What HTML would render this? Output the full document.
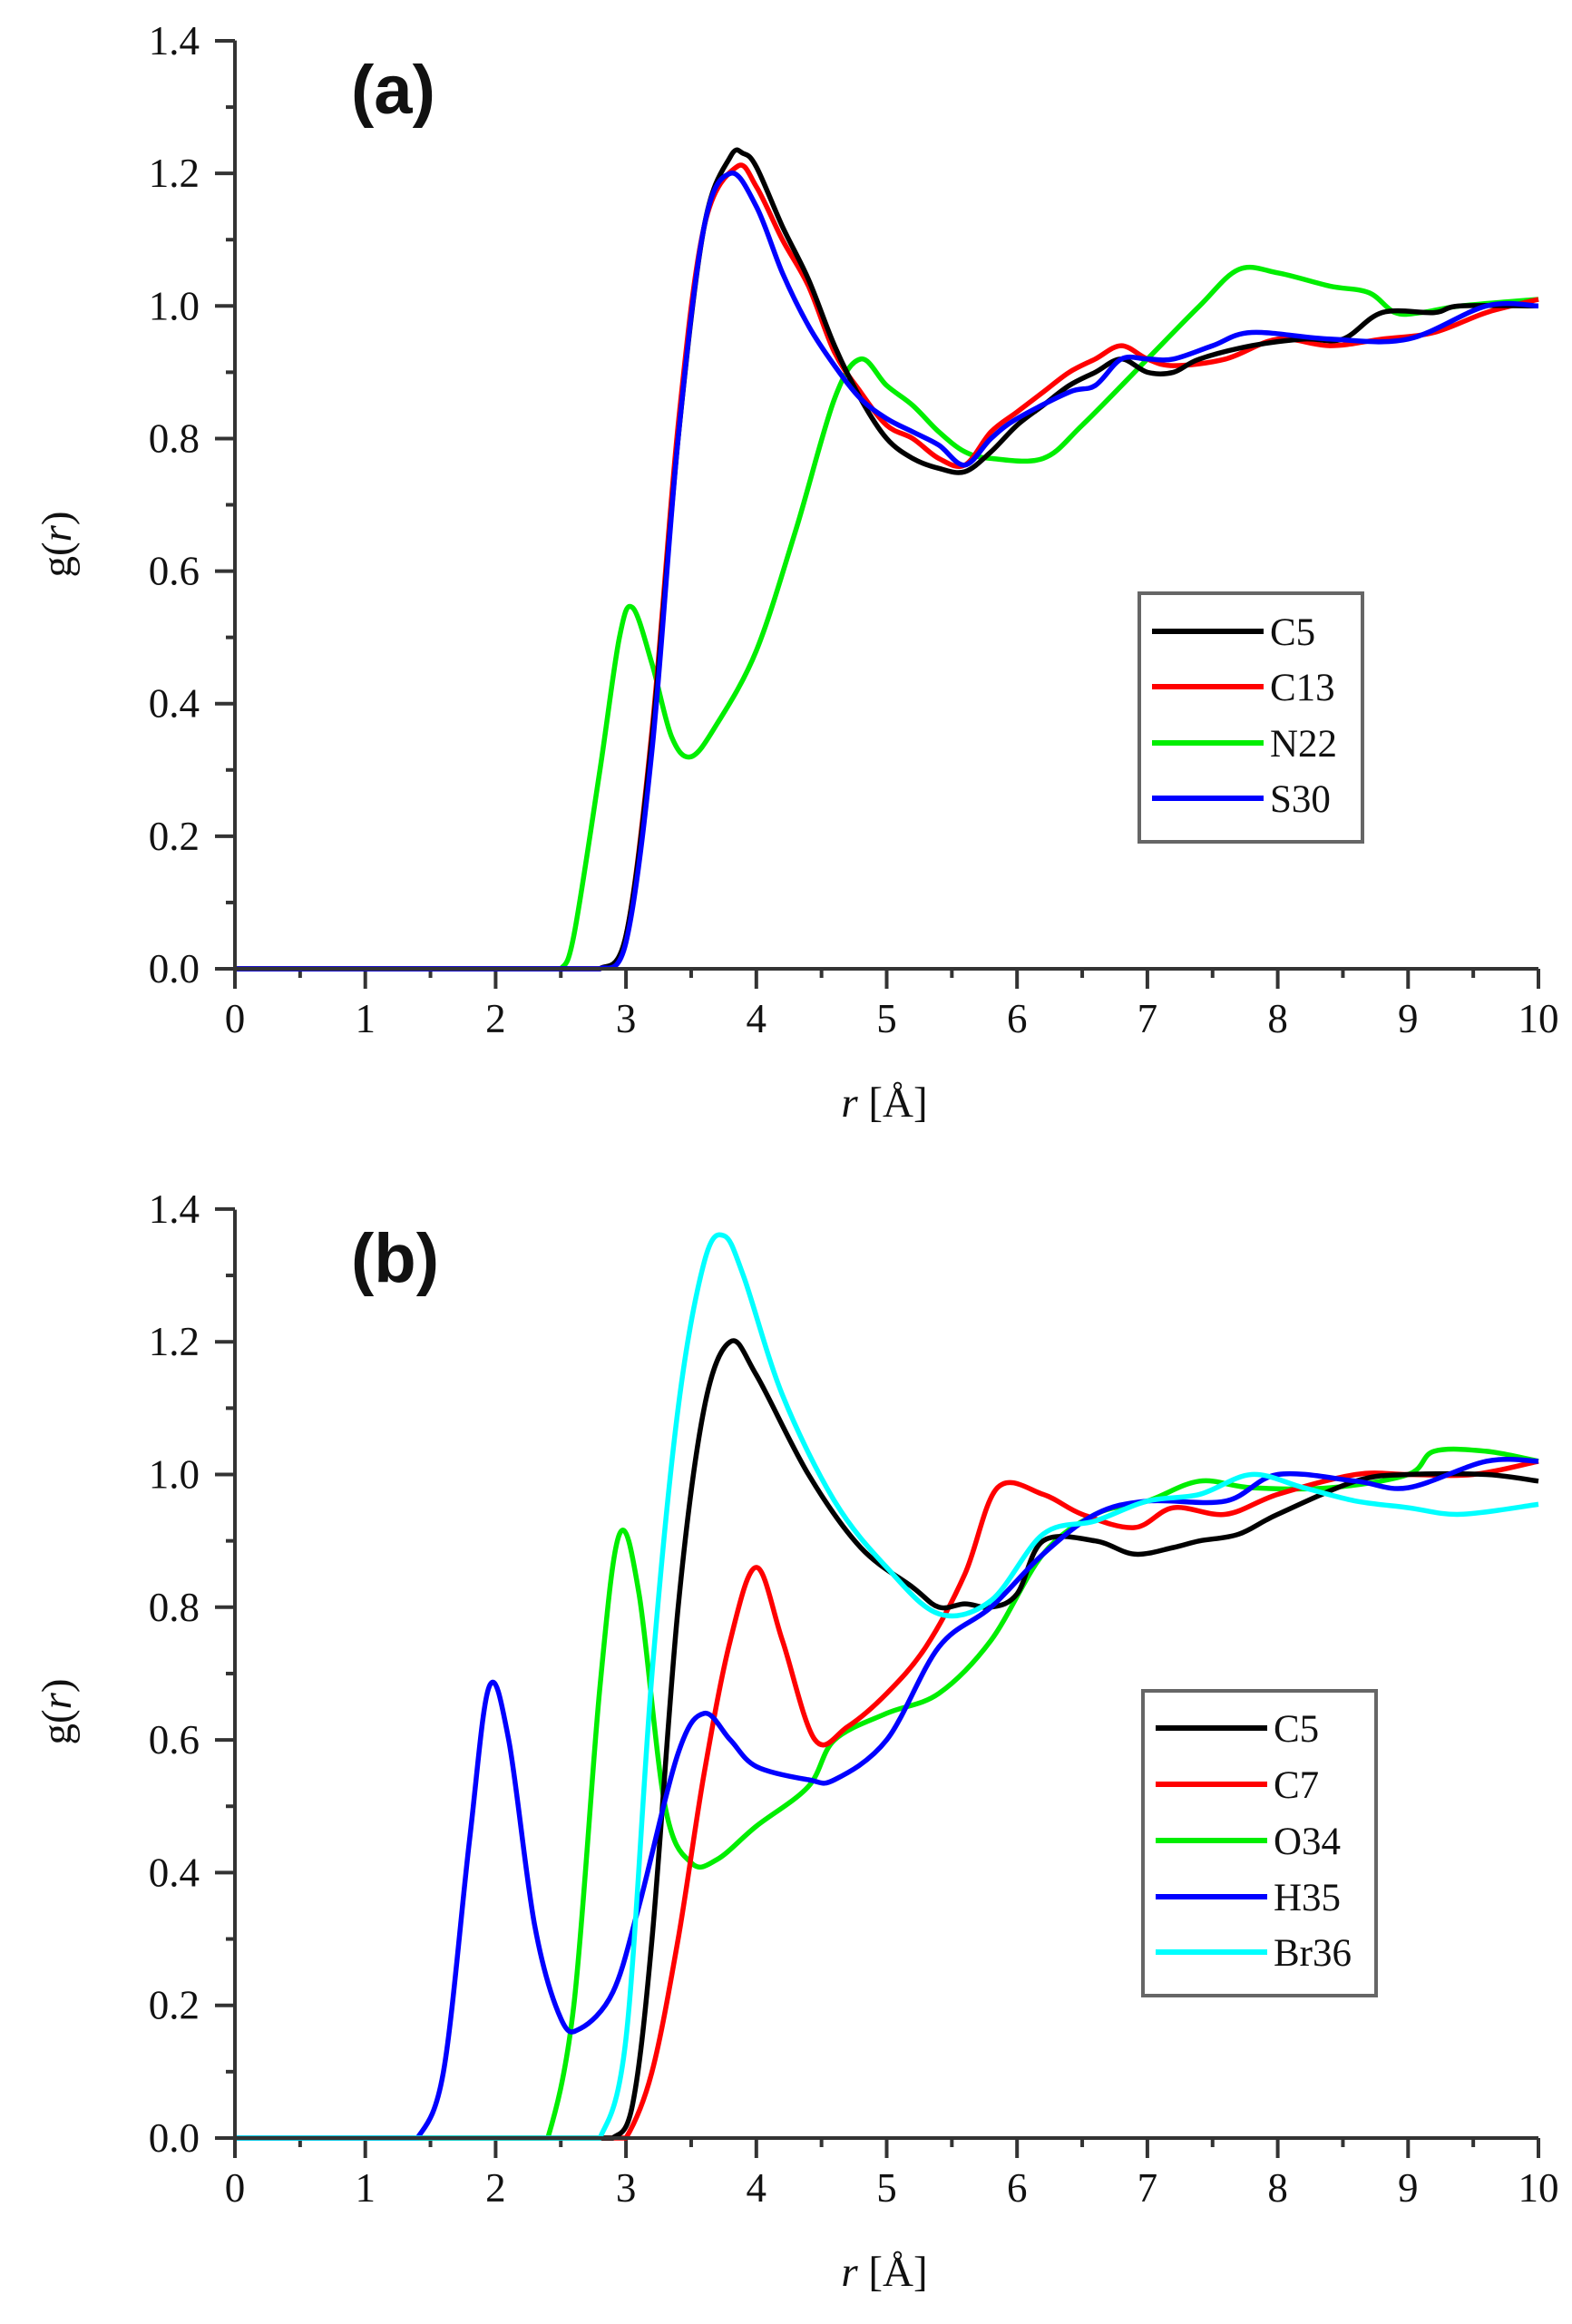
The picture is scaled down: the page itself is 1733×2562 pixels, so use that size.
<!DOCTYPE html>
<html><head><meta charset="utf-8"><style>
html,body{margin:0;padding:0;background:#fff;}
svg{display:block}
text{font-family:"Liberation Serif",serif;fill:#111}
</style></head><body>
<svg id="s" width="1733" height="2562" viewBox="0 0 1733 2562" xmlns="http://www.w3.org/2000/svg"></svg>
<script>
const S=document.getElementById('s');
let h='';
const X=r=>259+143.7*r;
function axes(y0,k,label,lab,yl){
  const Y=g=>y0-k*g;
  for(let i=0;i<=20;i++){const x=X(i/2);const L=i%2?10:22;h+=`<line x1="${x}" y1="${y0}" x2="${x}" y2="${y0+L}" stroke="#333" stroke-width="4"/>`;}
  for(let i=0;i<=14;i++){const y=Y(i/10);const L=i%2?10:22;h+=`<line x1="${259-L}" y1="${y}" x2="259" y2="${y}" stroke="#333" stroke-width="4"/>`;}
  for(let i=0;i<=10;i++){h+=`<text x="${X(i)}" y="${y0+70}" font-size="45" text-anchor="middle">${i}</text>`;}
  for(let i=0;i<=7;i++){h+=`<text x="220" y="${Y(i*0.2)+15}" font-size="45" text-anchor="end">${(i*0.2).toFixed(1)}</text>`;}
  h+=`<text x="975" y="${y0+163}" font-size="47" text-anchor="middle"><tspan font-style="italic">r</tspan> [Å]</text>`;
  h+=`<text transform="translate(78,${yl}) rotate(-90)" font-size="47" text-anchor="middle">g(<tspan font-style="italic">r</tspan>)</text>`;
  h+=`<text x="387" y="${lab}" font-size="76" font-weight="bold" style="font-family:'Liberation Sans',sans-serif" fill="#000">${label}</text>`;
  return Y;
}
function curve(pts,Y,col){
  // densify leading flat segment
  const a=pts[1][0];const Q=[];
  for(let x=0;x<a-1e-6;x+=0.1)Q.push([x,0]);
  Q.push([a,0]);for(let i=2;i<pts.length;i++)Q.push(pts[i]);
  const P=Q.map(p=>[X(p[0]),Y(p[1])]);
  let d=`M${P[0][0]},${P[0][1]}`;
  for(let i=0;i<P.length-1;i++){
    const p0=P[Math.max(0,i-1)],p1=P[i],p2=P[i+1],p3=P[Math.min(P.length-1,i+2)];
    let c1=[p1[0]+(p2[0]-p0[0])/6,p1[1]+(p2[1]-p0[1])/6];
    let c2=[p2[0]-(p3[0]-p1[0])/6,p2[1]-(p3[1]-p1[1])/6];
    if(Q[i][1]===0&&Q[i+1][1]===0){c1=[c1[0],p1[1]];c2=[c2[0],p2[1]];}
    if(Q[i][1]===0)c1[1]=Math.min(c1[1],p1[1]);
    d+=`C${c1[0].toFixed(1)},${c1[1].toFixed(1)} ${c2[0].toFixed(1)},${c2[1].toFixed(1)} ${p2[0].toFixed(1)},${p2[1].toFixed(1)}`;
  }
  h+=`<path d="${d}" fill="none" stroke="${col}" stroke-width="5.5" stroke-linejoin="round"/>`;
}
function legend(x,y,w,hh,rows){
  h+=`<rect x="${x}" y="${y}" width="${w}" height="${hh}" fill="#fff" stroke="#666" stroke-width="4"/>`;
  rows.forEach(r=>{h+=`<line x1="${x+14}" y1="${r[2]}" x2="${x+137}" y2="${r[2]}" stroke="${r[1]}" stroke-width="6"/>`;
  h+=`<text x="${x+144}" y="${r[2]+15}" font-size="43">${r[0]}</text>`;});
}
let Ya=axes(1068,730.7,'(a)',125,600);
const A={
C13:[[0,0],[2.8,0],[3.0,0.05],[3.2,0.36],[3.4,0.82],[3.6,1.12],[3.85,1.21],[4.0,1.18],[4.2,1.1],[4.4,1.03],[4.6,0.93],[4.8,0.87],[5.0,0.82],[5.2,0.8],[5.4,0.77],[5.6,0.76],[5.8,0.81],[6.0,0.84],[6.2,0.87],[6.4,0.9],[6.6,0.92],[6.8,0.94],[7.0,0.92],[7.2,0.91],[7.6,0.92],[8.0,0.95],[8.4,0.94],[8.8,0.95],[9.2,0.96],[9.6,0.99],[10,1.01]],
N22:[[0,0],[2.5,0],[2.6,0.05],[2.8,0.3],[2.95,0.5],[3.05,0.545],[3.2,0.46],[3.35,0.35],[3.5,0.32],[3.7,0.37],[4.0,0.48],[4.3,0.66],[4.6,0.86],[4.8,0.92],[5.0,0.88],[5.2,0.85],[5.4,0.81],[5.6,0.78],[5.8,0.77],[6.2,0.77],[6.5,0.82],[7.0,0.92],[7.4,1.0],[7.7,1.055],[8.0,1.05],[8.4,1.03],[8.7,1.02],[8.9,0.99],[9.1,0.99],[9.4,1.0],[10,1.01]],
S30:[[0,0],[2.8,0],[3.0,0.04],[3.2,0.33],[3.4,0.8],[3.6,1.12],[3.8,1.2],[4.0,1.15],[4.2,1.05],[4.4,0.97],[4.6,0.91],[4.8,0.86],[5.0,0.83],[5.2,0.81],[5.4,0.79],[5.6,0.76],[5.8,0.8],[6.0,0.83],[6.4,0.87],[6.6,0.88],[6.8,0.92],[7.0,0.92],[7.2,0.92],[7.5,0.94],[7.8,0.96],[8.4,0.95],[9.0,0.95],[9.6,1.0],[10,1.0]],
C5:[[0,0],[2.8,0],[3.0,0.05],[3.2,0.35],[3.4,0.8],[3.6,1.12],[3.8,1.225],[3.9,1.23],[4.0,1.21],[4.2,1.12],[4.4,1.04],[4.6,0.94],[4.8,0.86],[5.0,0.8],[5.2,0.77],[5.4,0.755],[5.6,0.75],[5.8,0.78],[6.0,0.82],[6.2,0.85],[6.4,0.88],[6.6,0.9],[6.8,0.92],[7.0,0.9],[7.2,0.9],[7.4,0.92],[7.8,0.94],[8.2,0.95],[8.5,0.95],[8.8,0.99],[9.2,0.99],[9.4,1.0],[10,1.0]]
};
curve(A.N22,Ya,'#00ee00');curve(A.C13,Ya,'#ff0000');curve(A.C5,Ya,'#000');curve(A.S30,Ya,'#0000ff');
legend(1256,654,246,274,[['C5','#000',696],['C13','#ff0000',757],['N22','#00ee00',819],['S30','#0000ff',880]]);
let Yb=axes(2357,731.5,'(b)',1413,1887);
const B={
C5:[[0,0],[2.9,0],[3.05,0.05],[3.2,0.3],[3.4,0.8],[3.6,1.1],[3.8,1.2],[4.0,1.15],[4.4,1.0],[4.8,0.89],[5.2,0.83],[5.4,0.8],[5.6,0.805],[5.8,0.8],[6.0,0.82],[6.2,0.9],[6.6,0.9],[6.9,0.88],[7.2,0.89],[7.4,0.9],[7.7,0.91],[8.0,0.94],[8.6,0.99],[9.0,1.0],[9.6,1.0],[10,0.99]],
C7:[[0,0],[3.0,0],[3.2,0.1],[3.4,0.3],[3.6,0.55],[3.8,0.75],[4.0,0.86],[4.2,0.75],[4.45,0.6],[4.7,0.62],[5.0,0.67],[5.3,0.74],[5.6,0.85],[5.85,0.98],[6.2,0.97],[6.5,0.94],[6.9,0.92],[7.2,0.95],[7.6,0.94],[8.0,0.97],[8.6,1.0],[9.0,1.0],[9.5,1.0],[10,1.02]],
O34:[[0,0],[2.4,0],[2.6,0.2],[2.8,0.68],[2.95,0.91],[3.1,0.82],[3.3,0.5],[3.5,0.415],[3.7,0.42],[4.0,0.47],[4.4,0.53],[4.6,0.6],[5.0,0.64],[5.4,0.67],[5.8,0.75],[6.2,0.88],[6.6,0.94],[7.0,0.96],[7.4,0.99],[7.8,0.98],[8.4,0.98],[9.0,1.0],[9.2,1.035],[9.6,1.035],[10,1.02]],
Br36:[[0,0],[2.8,0],[3.0,0.15],[3.2,0.7],[3.4,1.1],[3.6,1.32],[3.75,1.36],[3.9,1.3],[4.2,1.12],[4.6,0.96],[5.0,0.86],[5.4,0.79],[5.8,0.81],[6.2,0.91],[6.6,0.93],[7.0,0.96],[7.4,0.97],[7.8,1.0],[8.2,0.98],[8.6,0.96],[9.0,0.95],[9.4,0.94],[10,0.955]],
H35:[[0,0],[1.4,0],[1.6,0.1],[1.8,0.45],[1.95,0.68],[2.1,0.6],[2.3,0.32],[2.5,0.18],[2.65,0.165],[2.9,0.22],[3.1,0.35],[3.4,0.58],[3.6,0.64],[3.8,0.6],[4.0,0.56],[4.4,0.54],[4.6,0.54],[5.0,0.6],[5.4,0.74],[5.8,0.8],[6.2,0.88],[6.6,0.94],[7.0,0.96],[7.6,0.96],[8.0,1.0],[8.6,0.99],[9.0,0.98],[9.6,1.02],[10,1.02]]
};
curve(B.O34,Yb,'#00ee00');curve(B.C7,Yb,'#ff0000');curve(B.C5,Yb,'#000');curve(B.H35,Yb,'#0000ff');curve(B.Br36,Yb,'#00ffff');
legend(1260,1864,257,336,[['C5','#000',1905],['C7','#ff0000',1967],['O34','#00ee00',2029],['H35','#0000ff',2091],['Br36','#00ffff',2152]]);
[1068,2357].forEach(y0=>{
  h+=`<line x1="259" y1="${y0}" x2="${X(10)}" y2="${y0}" stroke="#333" stroke-width="4"/>`;
  h+=`<line x1="259" y1="${y0-7*146.2}" x2="259" y2="${y0+22}" stroke="#333" stroke-width="4"/>`;
});
S.innerHTML=h;
</script>
</body></html>
